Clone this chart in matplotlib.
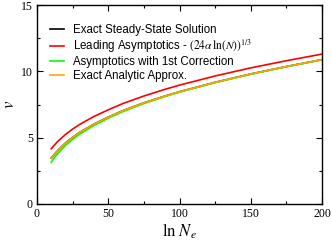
import matplotlib
matplotlib.use("Agg")
import matplotlib.pyplot as plt
from matplotlib.ticker import MultipleLocator

plt.rcParams["mathtext.fontset"] = "stix"

# ln N_e sample points and curve values
ln_ne = [10, 12, 15, 20, 25, 30, 40, 50, 60, 75, 90, 100, 125, 150, 175, 200]
exact_steady = [3.45, 3.72, 4.08, 4.6, 5.02, 5.4, 6.02, 6.55, 7.02, 7.62,
                8.14, 8.46, 9.17, 9.8, 10.36, 10.88]
leading = [4.16, 4.42, 4.76, 5.24, 5.65, 6.0, 6.6, 7.1, 7.56, 8.14,
           8.65, 8.96, 9.65, 10.26, 10.8, 11.3]
first_corr = [3.15, 3.46, 3.86, 4.42, 4.87, 5.27, 5.92, 6.47, 6.95, 7.57,
              8.1, 8.43, 9.15, 9.78, 10.35, 10.87]
analytic = [3.45, 3.72, 4.08, 4.6, 5.02, 5.4, 6.02, 6.55, 7.02, 7.62,
            8.14, 8.46, 9.17, 9.8, 10.36, 10.88]

labels = [
    "Exact Steady-State Solution",
    r"Leading Asymptotics - $(24\alpha\,\mathrm{ln}(N))^{1/3}$",
    "Asymptotics with 1st Correction",
    "Exact Analytic Approx.",
]
colors = ["black", "#ff0000", "#00ff00", "#ffa500"]

fig = plt.figure(figsize=(3.32, 2.4), dpi=100)
ax = fig.add_axes([37 / 332, 36 / 240, 285 / 332, 199 / 240])

for ys, lab, c in zip([exact_steady, leading, first_corr, analytic], labels, colors):
    ax.plot(ln_ne, ys, color=c, lw=1.2, label=lab)

ax.set_xlim(0, 200)
ax.set_ylim(0, 15)
ax.xaxis.set_major_locator(MultipleLocator(50))
ax.xaxis.set_minor_locator(MultipleLocator(25))
ax.yaxis.set_major_locator(MultipleLocator(5))
ax.yaxis.set_minor_locator(MultipleLocator(2.5))
ax.tick_params(which="both", direction="in", top=True, right=True, width=0.8)
ax.tick_params(which="major", length=4, pad=3)
ax.tick_params(which="minor", length=2)
for lbl in ax.get_xticklabels() + ax.get_yticklabels():
    lbl.set_fontfamily("Liberation Serif")
    lbl.set_fontsize(8.5)
for s in ax.spines.values():
    s.set_linewidth(1.0)

ax.set_xlabel(r"$\mathrm{ln}\ N_e$", fontsize=12, labelpad=1)
ax.set_ylabel(r"$v$", fontsize=12, labelpad=2)

leg = ax.legend(loc="upper left", bbox_to_anchor=(0.03, 0.93), frameon=False,
                fontsize=8.3, handlelength=1.2, handletextpad=0.8,
                labelspacing=0.15, borderaxespad=0)
for t in leg.get_texts():
    t.set_fontfamily("Liberation Sans")

fig.savefig("out.png", dpi=100)
